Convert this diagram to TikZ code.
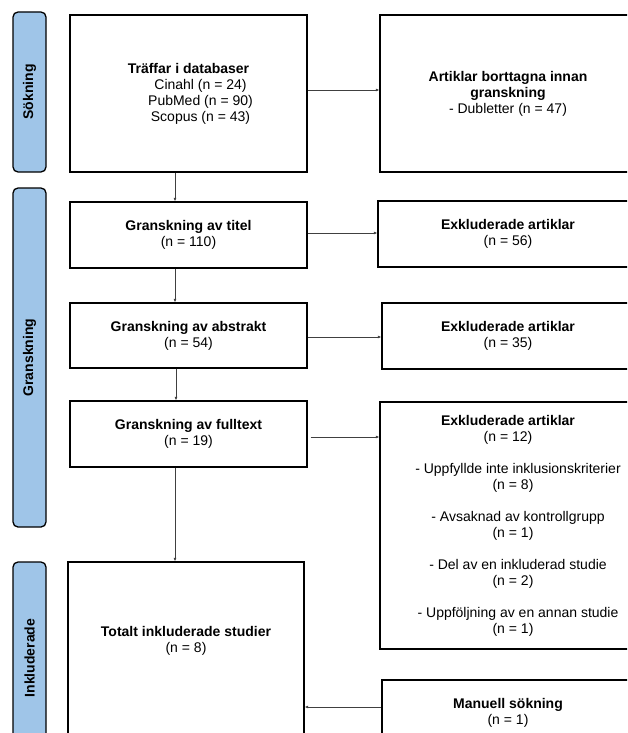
\documentclass[tikz,border=0pt]{standalone}
\usepackage{fontspec}
\setmainfont{Liberation Sans}
\usetikzlibrary{arrows.meta}
\definecolor{sidefill}{HTML}{9FC5E8}
\tikzset{
	box/.style={draw=black, line width=1.3pt, inner sep=0pt, align=center, font=\fontsize{14}{16}\selectfont},
	boxtext/.style={inner sep=0pt, align=center, font=\fontsize{14}{16}\selectfont},
	side/.style={draw=black, line width=1.3pt, fill=sidefill, rounded corners=5pt, rotate=90, minimum height=33pt, inner sep=0pt, font=\bfseries\fontsize{14}{16}\selectfont},
	link/.style={draw=black!75, line width=0.7pt, -{Latex[length=3.5pt,width=3pt]}}
}
\begin{document}
\begin{tikzpicture}[x=1pt,y=-1pt]
	\useasboundingbox (0,0) rectangle (627,733);
	\clip (0,0) rectangle (627,733);
	\node[side, minimum width=160pt] (s0) at (29.5,92) {Sökning};
	\node[side, minimum width=339pt] (s1) at (29.5,357.5) {Granskning};
	\node[side, minimum width=192pt] (s2) at (29.5,658) {Inkluderade};
	
	\node[box, minimum width=237pt, minimum height=157pt] (b0) at (188.5,93.5) {\textbf{Träffar i databaser}\\\hspace*{24pt}Cinahl (n = 24)\\\hspace*{24pt}PubMed (n = 90)\\\hspace*{24pt}Scopus (n = 43)};
	\node[box, minimum width=237pt, minimum height=66pt] (b1) at (188.5,235) {\textbf{Granskning av titel}\\(n = 110)};
	\node[box, minimum width=237pt, minimum height=65pt] (b2) at (188.5,335.5) {\textbf{Granskning av abstrakt}\\(n = 54)};
	\node[box, minimum width=237pt, minimum height=66pt] (b3) at (188.5,434) {\textbf{Granskning av fulltext}\\(n = 19)};
	\node[box, minimum width=236pt, minimum height=200pt] (b4) at (186,662) {};
	\node[boxtext] (t4) at (186,641) {\textbf{Totalt inkluderade studier}\\(n = 8)};
	
	\node[box, minimum width=256pt, minimum height=157pt] (r0) at (508,93.5) {\textbf{Artiklar borttagna innan}\\\textbf{granskning}\\- Dubletter (n = 47)};
	\node[box, minimum width=260pt, minimum height=66pt] (r1) at (508,234) {\textbf{Exkluderade artiklar}\\(n = 56)};
	\node[box, minimum width=252pt, minimum height=66pt] (r2) at (508,336) {\textbf{Exkluderade artiklar}\\(n = 35)};
	\node[box, minimum width=256pt, minimum height=247pt] (r3) at (508,525.5) {\textbf{Exkluderade artiklar}\\(n = 12)\\[16pt]
		\hspace*{20pt}- Uppfyllde inte inklusionskriterier\\\hspace*{10pt}(n = 8)\\[16pt]
		\hspace*{20pt}- Avsaknad av kontrollgrupp\\\hspace*{10pt}(n = 1)\\[16pt]
		\hspace*{20pt}- Del av en inkluderad studie\\\hspace*{10pt}(n = 2)\\[16pt]
		\hspace*{20pt}- Uppföljning av en annan studie\\\hspace*{10pt}(n = 1)};
	\node[box, minimum width=252pt, minimum height=66pt] (r4) at (508,713) {\textbf{Manuell sökning}\\(n = 1)};
	
	\draw[link] ([yshift=3.5pt]b0.east) -- ([yshift=3.5pt]r0.west);
	\draw[link] ([xshift=-13.5pt]b0.south) -- ([xshift=-13.5pt]b1.north);
	\draw[link] ([xshift=-13.5pt]b1.south) -- ([xshift=-13.5pt]b2.north);
	\draw[link] ([xshift=-12.5pt]b2.south) -- ([xshift=-12.5pt]b3.north);
	\draw[link] ([xshift=-13.5pt]b3.south) -- ([xshift=-13.5pt]b3.south |- b4.north);
	\draw[link] ([yshift=2pt]b1.east) -- ([yshift=2pt]b1.east -| r1.west);
	\draw[link] ([yshift=-1.5pt]b2.east) -- ([yshift=-1.5pt]b2.east -| r2.west);
	\draw[link] ([xshift=3pt,yshift=-3pt]b3.east) -- ([yshift=-3pt]b3.east -| r3.west);
	\draw[link] ([yshift=6pt]r4.west) -- ([yshift=6pt]r4.west -| b4.east);
\end{tikzpicture}
\end{document}
